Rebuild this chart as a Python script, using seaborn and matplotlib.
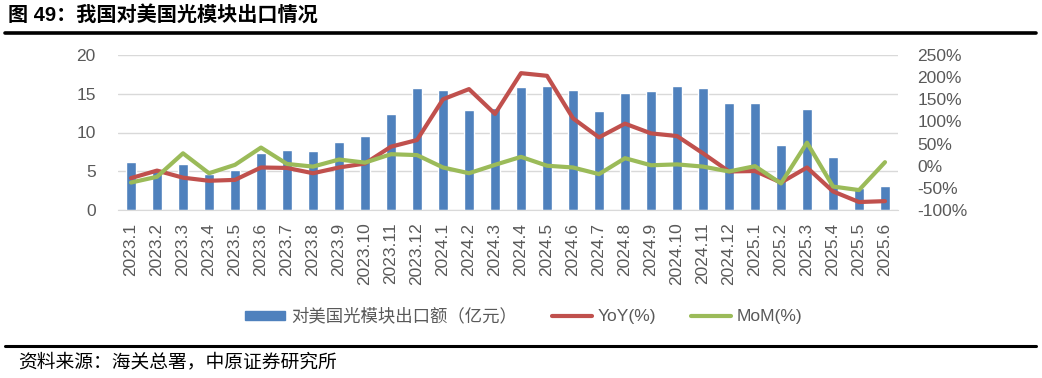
import numpy as np
import pandas as pd
import matplotlib
matplotlib.use("Agg")
import matplotlib.pyplot as plt
import seaborn as sns
from matplotlib.patches import Patch
from matplotlib.lines import Line2D
from matplotlib.ticker import FuncFormatter

# data
months = ["2023.1", "2023.2", "2023.3", "2023.4", "2023.5", "2023.6", "2023.7", "2023.8",
          "2023.9", "2023.10", "2023.11", "2023.12", "2024.1", "2024.2", "2024.3", "2024.4",
          "2024.5", "2024.6", "2024.7", "2024.8", "2024.9", "2024.10", "2024.11", "2024.12",
          "2025.1", "2025.2", "2025.3", "2025.4", "2025.5", "2025.6"]
export = [6.2, 5.0, 6.0, 4.7, 5.2, 7.3, 7.7, 7.65, 8.8, 9.55, 12.35, 15.7, 15.5, 12.95, 13.2,
          15.87, 15.96, 15.44, 12.77, 15.05, 15.35, 16.04, 15.7, 13.85, 13.85, 8.4, 13.0,
          6.8, 2.9, 3.1]
yoy = [-28, -11, -27, -34, -32, -4, -5, -17, -4, 5, 43, 58, 150, 173, 117, 209, 203, 107,
       64, 95, 73, 67, 28, -13, -12, -38, -4, -58, -82, -80]
mom = [-38, -25, 28, -17, 2, 41, 4, -2, 14, 7, 26, 24, -4, -17, 2, 20, 0, -4, -19, 17, 1,
       3, -2, -13, -1, -40, 52, -47, -55, 8]

df = pd.DataFrame({"month": months, "export": export, "yoy": yoy, "mom": mom})
df["pos"] = np.arange(len(df))

sns.set_style("white")
plt.rcParams["font.family"] = ["Liberation Sans", "Noto Sans CJK SC"]

BLUE = "#4F81BD"
RED = "#C0504D"
GREEN = "#9BBB59"
GREY = "#595959"
LIGHT = "#D9D9D9"

fig = plt.figure(figsize=(10.42, 3.78), dpi=100)
ax = fig.add_axes([118 / 1042, 1 - 210 / 378, 780 / 1042, 155 / 378])

sns.barplot(data=df, x="month", y="export", color=BLUE, saturation=1, width=0.4, ax=ax)
ax.set_ylim(0, 20)
ax.set_yticks(np.arange(0, 21, 5))
ax.set_xlim(-0.5, len(df) - 0.5)
ax.set_xlabel("")
ax.set_ylabel("")
ax.set_axisbelow(True)
ax.grid(axis="y", color=LIGHT, lw=1)
for s in ["top", "left", "right"]:
    ax.spines[s].set_visible(False)
ax.spines["bottom"].set_color(LIGHT)
ax.set_xticks(np.arange(-0.5, len(df), 1), minor=True)
ax.tick_params(axis="x", which="major", length=0, pad=9, labelsize=12.5, labelcolor=GREY,
               labelrotation=90)
ax.tick_params(axis="x", which="minor", length=5, color=LIGHT)
ax.tick_params(axis="y", length=0, pad=16, labelsize=12.5, labelcolor=GREY)

ax2 = ax.twinx()
sns.lineplot(data=df, x="pos", y="yoy", sort=False, color=RED, lw=3, ax=ax2,
             solid_capstyle="round", solid_joinstyle="round")
sns.lineplot(data=df, x="pos", y="mom", sort=False, color=GREEN, lw=3, ax=ax2,
             solid_capstyle="round", solid_joinstyle="round")
ax2.set_ylim(-100, 250)
ax2.set_yticks(np.arange(-100, 251, 50))
ax2.yaxis.set_major_formatter(FuncFormatter(lambda v, p: f"{v:.0f}%"))
ax2.set_xlim(-0.5, len(df) - 0.5)
ax2.set_xlabel("")
ax2.set_ylabel("")
ax2.grid(False)
for s in ax2.spines.values():
    s.set_visible(False)
ax2.tick_params(axis="y", length=0, pad=14, labelsize=12.5, labelcolor=GREY)

handles = [Patch(color=BLUE),
           Line2D([], [], color=RED, lw=3, solid_capstyle="round"),
           Line2D([], [], color=GREEN, lw=3, solid_capstyle="round")]
labels = ["对美国光模块出口额（亿元）", "YoY(%)", "MoM(%)"]
fig.legend(handles, labels, loc="center", bbox_to_anchor=(524 / 1042, 1 - 316 / 378),
           ncol=3, frameon=False, fontsize=12.5, labelcolor=GREY, handlelength=2.3,
           handleheight=0.45, handletextpad=0.35, columnspacing=2.0)

# title, rules and source
fig.text(8 / 1042, 1 - 15 / 378, "图 49：我国对美国光模块出口情况", fontsize=14.5,
         fontweight="bold", va="center", ha="left", color="black")
fig.add_artist(Line2D([5 / 1042, 1036 / 1042], [1 - 32.5 / 378] * 2, lw=2.6, color="black"))
fig.add_artist(Line2D([5 / 1042, 1036 / 1042], [1 - 345.5 / 378] * 2, lw=2.2, color="black"))
fig.text(18 / 1042, 1 - 362 / 378, "资料来源：海关总署，中原证券研究所", fontsize=13.5,
         va="center", ha="left", color="black")

fig.savefig("out.png", dpi=100)
